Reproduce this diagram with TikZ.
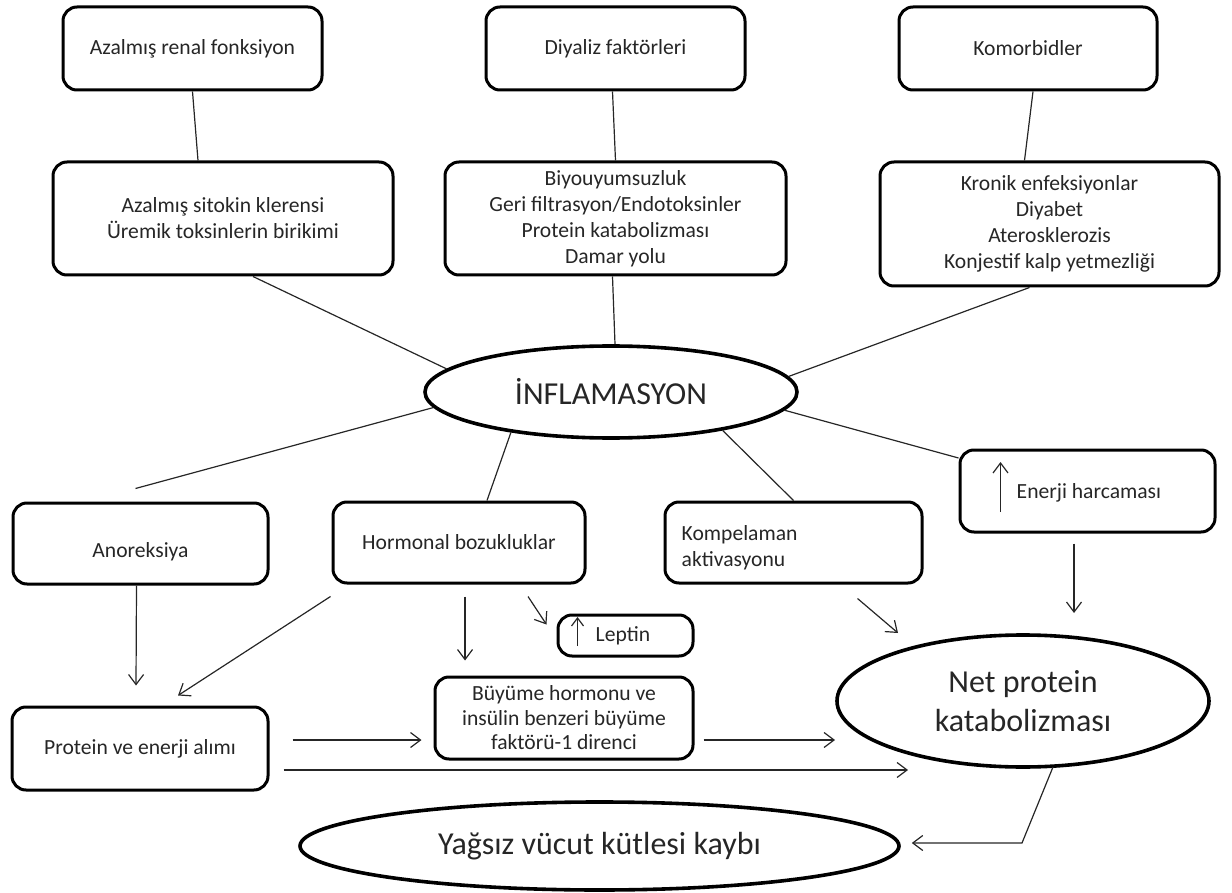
\documentclass[tikz,border=0pt]{standalone}
\usepackage{fontspec}
\setmainfont{Carlito}
\usetikzlibrary{shapes.geometric,arrows.meta,calc}
\begin{document}
\begin{tikzpicture}[x=1pt,y=-1pt,
  every node/.style={font=\fontsize{21.6}{26}\selectfont, text=black!85},
  box/.style={draw=black, line width=3pt, rounded corners=14pt, align=center, inner sep=0pt},
  oval/.style={draw=black, ellipse, line width=3.6pt, inner sep=0pt, align=center,
    font=\fontsize{32}{39}\selectfont},
  plain/.style={inner sep=0pt, align=left},
  link/.style={line width=1.2pt, black!85},
  arr/.style={line width=1.2pt, black!85, -{Straight Barb[length=10pt,width=15pt]}},
  smallarr/.style={line width=1.2pt, black!85, -{Straight Barb[length=8pt,width=12pt]}}]
\useasboundingbox (0,0) rectangle (1232,893);

% causes
\node[box, minimum width=259pt, minimum height=83pt] (renal) at (192.5,48.5) {Azalmış renal fonksiyon};
\node[box, minimum width=259pt, minimum height=83pt] (diyaliz) at (615.5,48.5) {Diyaliz faktörleri};
\node[box, minimum width=258pt, minimum height=83pt] (komorb) at (1028,48.5) {Komorbidler};

\node[box, minimum width=340pt, minimum height=113pt] (sitokin) at (223,218.5)
  {Azalmış sitokin klerensi\\Üremik toksinlerin birikimi};
\node[box, minimum width=341pt, minimum height=113pt] (biyo) at (615.5,218.5)
  {Biyouyumsuzluk\\Geri filtrasyon/Endotoksinler\\Protein katabolizması\\Damar yolu};
\node[box, minimum width=339pt, minimum height=124pt] (kronik) at (1049.5,224)
  {Kronik enfeksiyonlar\\Diyabet\\Ateroskleroz\-is\\Konjestif kalp yetmezliği};

% centre
\node[oval, minimum width=372pt, minimum height=92pt] (inflam) at (611,392) {İNFLAMASYON};

% consequences
\node[box, minimum width=255pt, minimum height=81pt] (anor) at (140.5,543.5) {};
\node[plain] (anortxt) at ($(anor.center)+(0,8)$) {Anoreksiya};
\node[box, minimum width=252pt, minimum height=81pt] (hormonal) at (459,542.5) {Hormonal bozukluklar};
\node[box, minimum width=257pt, minimum height=81pt] (kompel) at (793.5,542.5) {};
\node[plain, anchor=west] (kompeltxt) at ($(kompel.west)+(18,5)$) {Kompelaman\\aktivasyonu};
\node[box, minimum width=255pt, minimum height=82pt] (enerji) at (1087.5,491) {};
\node[plain, anchor=west] (enerjitxt) at ($(enerji.west)+(58,2)$) {Enerji harcaması};
\node[box, minimum width=135pt, minimum height=41pt] (leptin) at (625.5,635.5) {};
\node[plain, anchor=west] (leptintxt) at ($(leptin.west)+(39,0)$) {Leptin};

\node[box, minimum width=256pt, minimum height=83pt] (protein) at (140,748.5) {Protein ve enerji alımı};
\node[box, minimum width=258pt, minimum height=82pt, font=\fontsize{21.6}{24.5}\selectfont] (buyume) at (564,718)
  {Büyüme hormonu ve\\insülin benzeri büyüme\\faktörü-1 direnci};
\node[oval, minimum width=372pt, minimum height=132pt] (net) at (1023,701) {Net protein\\katabolizması};
\node[oval, minimum width=599pt, minimum height=88pt] (yagsiz) at (599.5,846) {Yağsız vücut kütlesi kaybı};

% plain links
\draw[link] (renal.south) -- ($(sitokin.north)+(-25,0)$);
\draw[link] ($(diyaliz.south)+(-3,0)$) -- (biyo.north);
\draw[link] ($(komorb.south)+(5,0)$) -- ($(kronik.north)+(-25,0)$);
\draw[link] ($(sitokin.south)+(30,0)$) -- (inflam.172);
\draw[link] ($(biyo.south)+(-3,0)$) -- ($(inflam.north)+(4,0)$);
\draw[link] ($(kronik.south)+(-20,0)$) -- (inflam.5);
\coordinate (anorend) at ($(anor.north)+(-5,-13)$);
\draw[link] (inflam.185) -- (anorend);
\draw[link] (inflam.202) -- ($(hormonal.north)+(28,0)$);
\draw[link] (inflam.341) -- (kompel.north);
\draw[link] (inflam.354) -- ($(enerji.west)+(0,-33)$);

% arrows
\draw[arr] ($(anor.south)+(-4,0)$) -- ($(protein.north)+(-4,-20)$);
\draw[arr] ($(hormonal.south west)+(-1,12)$) -- ($(protein.north)+(38,-10)$);
\draw[arr] ($(hormonal.south)+(6,12)$) -- ($(hormonal.south |- buyume.north)+(6,-15)$);
\draw[arr] ($(hormonal.south)+(69,12)$) -- ($(leptin.west)+(-10,-11)$);
\draw[arr] ($(kompel.south)+(64,14)$) -- ($(net.center)+(-125,-68)$);
\draw[arr] ($(enerji.south)+(-13.5,10)$) -- ($(net.center)+(51,-88)$);
\draw[arr] ($(protein.east)+(23,-8.5)$) -- ($(buyume.west)+(-12,22)$);
\draw[arr] ($(buyume.east)+(9,22)$) -- ($(net.center)+(-188,39)$);
\draw[arr] ($(protein.east)+(14,21.5)$) -- ($(net.center)+(-115,69)$);
\draw[arr] ($(net.center)+(30,66)$) -- ($(net.center)+(-1,142)$) -- ($(yagsiz.east)+(11,-3)$);

% increase markers
\draw[arr] ($(enerji.west)+(42,21)$) -- ($(enerji.west)+(42,-29)$);
\draw[smallarr] ($(leptin.west)+(21,10.5)$) -- ($(leptin.west)+(21,-18.5)$);
\end{tikzpicture}
\end{document}
